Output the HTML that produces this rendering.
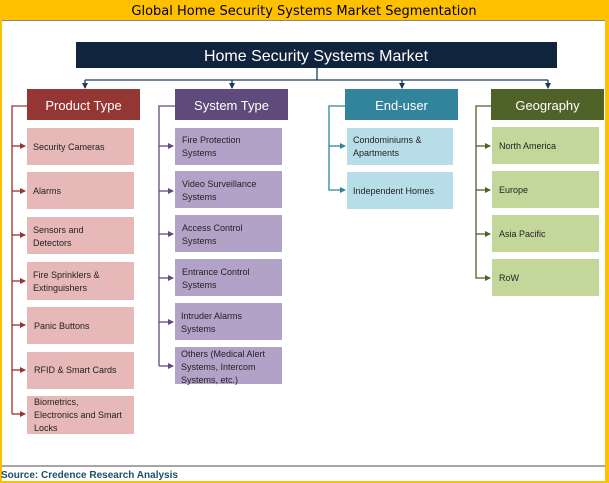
<!DOCTYPE html>
<html><head><meta charset="utf-8"><style>
html,body{margin:0;padding:0;background:#fff}
svg{display:block}
text{font-family:"Liberation Sans",sans-serif}
</style></head><body>
<svg width="609" height="483" viewBox="0 0 609 483" xmlns="http://www.w3.org/2000/svg">
<defs>
<marker id="a1" markerWidth="6" markerHeight="6" refX="5" refY="3" orient="auto" markerUnits="userSpaceOnUse"><path d="M0,0L6,3L0,6z" fill="#943634"/></marker>
<marker id="a2" markerWidth="6" markerHeight="6" refX="5" refY="3" orient="auto" markerUnits="userSpaceOnUse"><path d="M0,0L6,3L0,6z" fill="#604A7B"/></marker>
<marker id="a3" markerWidth="6" markerHeight="6" refX="5" refY="3" orient="auto" markerUnits="userSpaceOnUse"><path d="M0,0L6,3L0,6z" fill="#31849B"/></marker>
<marker id="a4" markerWidth="6" markerHeight="6" refX="5" refY="3" orient="auto" markerUnits="userSpaceOnUse"><path d="M0,0L6,3L0,6z" fill="#4F6228"/></marker>
<marker id="a0" markerWidth="6" markerHeight="6" refX="5" refY="3" orient="auto" markerUnits="userSpaceOnUse"><path d="M0,0L6,3L0,6z" fill="#1F3A5A"/></marker>
</defs>
<rect x="0" y="0" width="609" height="483" fill="#FFC000"/>
<rect x="2" y="20" width="603" height="461" fill="#fff"/>
<line x1="2" y1="20.5" x2="605" y2="20.5" stroke="#888" stroke-width="1"/>
<text x="304" y="15" font-size="13" text-anchor="middle" font-family="DejaVu Sans, sans-serif" style="font-family:'DejaVu Sans',sans-serif" fill="#000">Global Home Security Systems Market Segmentation</text>
<line x1="2" y1="466" x2="605" y2="466" stroke="#888" stroke-width="1.5"/>
<text x="1" y="478" font-size="10" font-weight="bold" fill="#1F4E66">Source: Credence Research Analysis</text>

<rect x="76" y="42" width="481" height="26" fill="#10243E"/>
<text x="316" y="61" font-size="16" fill="#fff" text-anchor="middle">Home Security Systems Market</text>
<g stroke="#1F3A5A" stroke-width="1.3" fill="none">
<line x1="317" y1="68" x2="317" y2="80"/>
<line x1="85" y1="80" x2="548" y2="80"/>
<line x1="85" y1="80" x2="85" y2="88" marker-end="url(#a0)"/>
<line x1="232" y1="80" x2="232" y2="88" marker-end="url(#a0)"/>
<line x1="402" y1="80" x2="402" y2="88" marker-end="url(#a0)"/>
<line x1="548" y1="80" x2="548" y2="88" marker-end="url(#a0)"/>
</g>

<rect x="27" y="89" width="113" height="31" fill="#943634"/>
<text x="83.5" y="110" font-size="13" fill="#fff" text-anchor="middle">Product Type</text>
<rect x="175" y="89" width="113" height="31" fill="#604A7B"/>
<text x="231.5" y="110" font-size="13" fill="#fff" text-anchor="middle">System Type</text>
<rect x="345" y="89" width="113" height="31" fill="#31849B"/>
<text x="401.5" y="110" font-size="13" fill="#fff" text-anchor="middle">End-user</text>
<rect x="491" y="89" width="113" height="31" fill="#4F6228"/>
<text x="547.5" y="110" font-size="13" fill="#fff" text-anchor="middle">Geography</text>

<!-- Product -->
<g stroke="#943634" stroke-width="1.3" fill="none">
<polyline points="27,106 12,106 12,414"/>
<line x1="12" y1="146" x2="25" y2="146" marker-end="url(#a1)"/>
<line x1="12" y1="191" x2="25" y2="191" marker-end="url(#a1)"/>
<line x1="12" y1="235" x2="25" y2="235" marker-end="url(#a1)"/>
<line x1="12" y1="281" x2="25" y2="281" marker-end="url(#a1)"/>
<line x1="12" y1="325" x2="25" y2="325" marker-end="url(#a1)"/>
<line x1="12" y1="370" x2="25" y2="370" marker-end="url(#a1)"/>
<line x1="12" y1="414" x2="25" y2="414" marker-end="url(#a1)"/>
</g>
<g fill="#E6B9B8">
<rect x="27" y="128" width="107" height="37"/>
<rect x="27" y="172" width="107" height="37"/>
<rect x="27" y="217" width="107" height="37"/>
<rect x="27" y="262" width="107" height="38"/>
<rect x="27" y="307" width="107" height="37"/>
<rect x="27" y="352" width="107" height="37"/>
<rect x="27" y="396" width="107" height="38"/>
</g>
<g font-size="9" fill="#222">
<text x="33" y="150">Security Cameras</text>
<text x="33" y="194">Alarms</text>
<text x="33" y="233">Sensors and</text><text x="33" y="246">Detectors</text>
<text x="33" y="278">Fire Sprinklers &amp;</text><text x="33" y="291">Extinguishers</text>
<text x="34" y="329">Panic Buttons</text>
<text x="34" y="373">RFID &amp; Smart Cards</text>
<text x="34" y="405">Biometrics,</text><text x="34" y="418">Electronics and Smart</text><text x="34" y="431">Locks</text>
</g>

<!-- System -->
<g stroke="#604A7B" stroke-width="1.3" fill="none">
<polyline points="175,106 159,106 159,366"/>
<line x1="159" y1="146" x2="173" y2="146" marker-end="url(#a2)"/>
<line x1="159" y1="191" x2="173" y2="191" marker-end="url(#a2)"/>
<line x1="159" y1="234" x2="173" y2="234" marker-end="url(#a2)"/>
<line x1="159" y1="278" x2="173" y2="278" marker-end="url(#a2)"/>
<line x1="159" y1="322" x2="173" y2="322" marker-end="url(#a2)"/>
<line x1="159" y1="366" x2="173" y2="366" marker-end="url(#a2)"/>
</g>
<g fill="#B3A2C7">
<rect x="175" y="128" width="107" height="37"/>
<rect x="175" y="171" width="107" height="37"/>
<rect x="175" y="215" width="107" height="37"/>
<rect x="175" y="259" width="107" height="37"/>
<rect x="175" y="303" width="107" height="37"/>
<rect x="175" y="347" width="107" height="37"/>
</g>
<g font-size="9" fill="#222">
<text x="182" y="143">Fire Protection</text><text x="182" y="156">Systems</text>
<text x="182" y="187">Video Surveillance</text><text x="182" y="200">Systems</text>
<text x="182" y="231">Access Control</text><text x="182" y="244">Systems</text>
<text x="182" y="275">Entrance Control</text><text x="182" y="288">Systems</text>
<text x="181" y="319">Intruder Alarms</text><text x="181" y="332">Systems</text>
<text x="181" y="357">Others (Medical Alert</text><text x="181" y="370">Systems, Intercom</text><text x="181" y="383">Systems, etc.)</text>
</g>

<!-- End-user -->
<g stroke="#31849B" stroke-width="1.3" fill="none">
<polyline points="345,106 329,106 329,190 345,190" marker-end="url(#a3)"/>
<line x1="329" y1="146" x2="345" y2="146" marker-end="url(#a3)"/>
</g>
<g fill="#B7DEE8">
<rect x="347" y="128" width="106" height="37"/>
<rect x="347" y="172" width="106" height="37"/>
</g>
<g font-size="9" fill="#222">
<text x="353" y="143">Condominiums &amp;</text><text x="353" y="156">Apartments</text>
<text x="353" y="194">Independent Homes</text>
</g>

<!-- Geography -->
<g stroke="#4F6228" stroke-width="1.3" fill="none">
<polyline points="491,106 476,106 476,278 490,278" marker-end="url(#a4)"/>
<line x1="476" y1="146" x2="490" y2="146" marker-end="url(#a4)"/>
<line x1="476" y1="190" x2="490" y2="190" marker-end="url(#a4)"/>
<line x1="476" y1="234" x2="490" y2="234" marker-end="url(#a4)"/>
</g>
<g fill="#C4D79B">
<rect x="492" y="127" width="107" height="37"/>
<rect x="492" y="171" width="107" height="37"/>
<rect x="492" y="215" width="107" height="37"/>
<rect x="492" y="259" width="107" height="37"/>
</g>
<g font-size="9" fill="#222">
<text x="499" y="149">North America</text>
<text x="499" y="193">Europe</text>
<text x="499" y="237">Asia Pacific</text>
<text x="499" y="281">RoW</text>
</g>
</svg>
</body></html>
